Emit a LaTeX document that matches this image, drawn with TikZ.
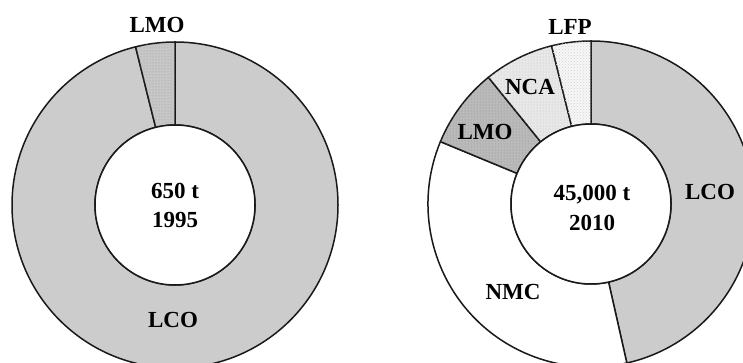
\documentclass[tikz,border=0pt]{standalone}
\usepackage{fontspec}
\setmainfont{Liberation Serif}
\usetikzlibrary{patterns}
\begin{document}
\begin{tikzpicture}[x=1pt,y=1pt,
  sector/.style={draw=black!90, line width=1.5pt, line join=round},
  lco/.style={sector, fill=black!20},
  lmoA/.style={sector, fill=black!22, postaction={pattern=dots, pattern color=black!40}},
  lmoB/.style={sector, fill=black!27, postaction={pattern=dots, pattern color=black!45}},
  nca/.style={sector, fill=black!9, postaction={pattern=dots, pattern color=black!25}},
  lfp/.style={sector, fill=black!3, postaction={pattern=crosshatch dots, pattern color=black!18}},
  nmc/.style={sector, fill=white},
  hole/.style={draw=black!90, line width=1.5pt, fill=white},
  lbl/.style={font=\bfseries\fontsize{23}{26}\selectfont, inner sep=0pt}]
\useasboundingbox (0,0) rectangle (743,363);
\fill[white] (0,0) rectangle (743,363);
\coordinate (L) at (175,158);
\coordinate (R) at (591,159);
\def\Ro{163}
\def\Ri{80}
% left ring
\begin{scope}[shift={(L)}]
  \draw[lco] (90:\Ro) arc[start angle=90, end angle=-256, radius=\Ro] -- (104:\Ri) arc[start angle=104, end angle=450, radius=\Ri] -- cycle;
  \draw[lmoA] (90:\Ro) arc[start angle=90, end angle=104, radius=\Ro] -- (104:\Ri) arc[start angle=104, end angle=90, radius=\Ri] -- cycle;
\end{scope}
\draw[hole] (L) circle[radius=\Ri];
% right ring
\begin{scope}[shift={(R)}]
  \draw[lco] (90:\Ro) arc[start angle=90, end angle=-77.3, radius=\Ro] -- (-77.3:\Ri) arc[start angle=-77.3, end angle=90, radius=\Ri] -- cycle;
  \draw[nmc] (157.5:\Ro) arc[start angle=157.5, end angle=282.7, radius=\Ro] -- (282.7:\Ri) arc[start angle=282.7, end angle=157.5, radius=\Ri] -- cycle;
  \draw[lmoB] (129:\Ro) arc[start angle=129, end angle=157.5, radius=\Ro] -- (157.5:\Ri) arc[start angle=157.5, end angle=129, radius=\Ri] -- cycle;
  \draw[nca] (104:\Ro) arc[start angle=104, end angle=129, radius=\Ro] -- (129:\Ri) arc[start angle=129, end angle=104, radius=\Ri] -- cycle;
  \draw[lfp] (90:\Ro) arc[start angle=90, end angle=104, radius=\Ro] -- (104:\Ri) arc[start angle=104, end angle=90, radius=\Ri] -- cycle;
\end{scope}
\draw[hole] (R) circle[radius=\Ri];
% labels left
\node[lbl] (lLMO) at (157,338) {LMO};
\node[lbl] (lLCO) at (173,43) {LCO};
\node[lbl] (lT) at (175,172) {650 t};
\node[lbl] (lY) at (175,143) {1995};
% labels right
\node[lbl] (rLFP) at (570,336) {LFP};
\node[lbl] (rNCA) at (530,276) {NCA};
\node[lbl] (rLMO) at (485,231) {LMO};
\node[lbl] (rLCO) at (710,171) {LCO};
\node[lbl] (rNMC) at (513,71) {NMC};
\node[lbl] (rT) at (592,168) {45,000 t};
\node[lbl] (rY) at (592,140) {2010};
\end{tikzpicture}
\end{document}
